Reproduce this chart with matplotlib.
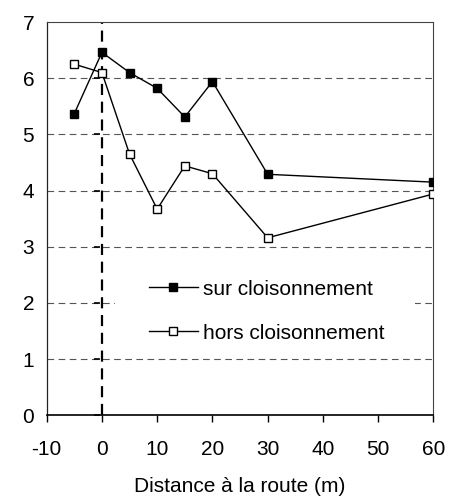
import matplotlib
matplotlib.use("Agg")
import matplotlib.pyplot as plt
from matplotlib.patches import Rectangle

plt.rcParams['font.family'] = ['Liberation Sans', 'DejaVu Sans']

# data
distance = [-5, 0, 5, 10, 15, 20, 30, 60]
sur_cloison = [5.37, 6.46, 6.10, 5.82, 5.31, 5.94, 4.29, 4.15]
hors_cloison = [6.25, 6.10, 4.65, 3.67, 4.44, 4.30, 3.16, 3.94]
xticks = [-10, 0, 10, 20, 30, 40, 50, 60]
yticks = [0, 1, 2, 3, 4, 5, 6, 7]

fig = plt.figure(figsize=(4.51, 4.97), dpi=100)
ax = fig.add_axes([0.1035, 0.1643, 0.8575, 0.7914])

# horizontal dashed grid
for y in yticks[1:-1]:
    ax.axhline(y, color="#555555", lw=0.8, ls=(0, (6, 4)), zorder=1)

# road position
ax.axvline(0, color="black", lw=1.6, ls=(0, (5, 3)), zorder=2)
ax.plot([-0.9] * len(yticks), yticks, ls="none", marker="_", ms=5, mew=1.2,
        color="black", zorder=2)

ax.plot(distance, sur_cloison, color="black", lw=1.0, marker="s", ms=6,
        mfc="black", mec="black", label="sur cloisonnement", zorder=3)
ax.plot(distance, hors_cloison, color="black", lw=1.0, marker="s", ms=6,
        mfc="white", mec="black", label="hors cloisonnement", zorder=3)

ax.set_xlim(-10, 60)
ax.set_ylim(0, 7)
ax.set_xticks(xticks)
ax.set_xticklabels([str(v) for v in xticks])
ax.set_yticks(yticks)
ax.set_yticklabels([str(v) for v in yticks])
ax.tick_params(axis="x", direction="out", length=5, width=1, labelsize=15, pad=13)
ax.tick_params(axis="y", length=0, labelsize=15, pad=9)

for side in ["top", "right"]:
    ax.spines[side].set_color("#444444")
    ax.spines[side].set_linewidth(0.8)
ax.spines["left"].set_color("#222222")
ax.spines["left"].set_linewidth(0.9)
ax.spines["bottom"].set_linewidth(1.2)

ax.set_xlabel("Distance à la route (m)", fontsize=15, labelpad=13)

# white legend area hiding the grid behind it
ax.add_patch(Rectangle((0.177, 0.174), 0.776, 0.183, transform=ax.transAxes,
                       facecolor="white", edgecolor="none", zorder=1.5))

leg = ax.legend(loc="center", bbox_to_anchor=(0.569, 0.265), frameon=False,
                fontsize=15, handlelength=2.35, labelspacing=1.2, handletextpad=0.25,
                borderpad=0.0, borderaxespad=0)
leg.set_zorder(4)

fig.savefig("out.png", dpi=100)
